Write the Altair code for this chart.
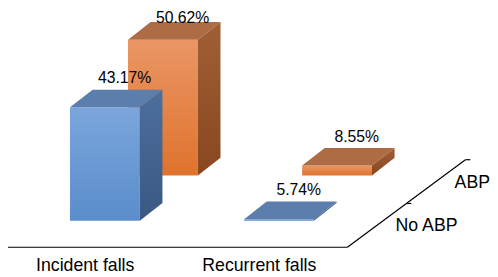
import altair as alt
import pandas as pd

# ---- data ----
categories = ["Incident falls", "Recurrent falls"]
series_names = ["No ABP", "ABP"]
no_abp_values = [43.17, 5.74]
abp_values = [50.62, 8.55]
series_values = [no_abp_values, abp_values]

# ---- layout / style constants (pixel-like x units, % y units) ----
PX_PER_PCT = 3.04          # vertical pixels per percentage point
AXIS_MIN = 5.26            # value at the floor of the value axis
X_DOMAIN = [8, 498]
PLOT_W, PLOT_H = 490, 269
BASE_FROM_TOP = 214        # px from top of plot to front-row bar base
Y_MAX = AXIS_MIN + BASE_FROM_TOP / PX_PER_PCT
Y_MIN = AXIS_MIN - (PLOT_H - BASE_FROM_TOP) / PX_PER_PCT

BAR_LEFT0 = 71
CAT_STEP = 177
ROW_DX = 59
ROW_DY = 46 / PX_PER_PCT
BAR_W = 71
DEPTH_DX = 23
DEPTH_DY = 18 / PX_PER_PCT

FLOOR_LEFT = 8
FLOOR_RIGHT = 353
FLOOR_DY = 27 / PX_PER_PCT
FLOOR_ROW_DX = 60
FLOOR_ROW_DY = 44.5 / PX_PER_PCT
TICK_LEN = 5

FONT = "Liberation Sans"
LABEL_TOP_LIMIT = Y_MAX - 8 / PX_PER_PCT   # keep value labels inside the canvas

styles = {
    "No ABP": dict(front=("#7ba6dc", "#5a8dcb"), top="#5b7ead", side=("#4d6f9c", "#3a5883")),
    "ABP": dict(front=("#ea9665", "#df732d"), top="#ae6c45", side=("#a05f35", "#88471f")),
}

xs = alt.Scale(domain=X_DOMAIN, nice=False, zero=False)
ys = alt.Scale(domain=[Y_MIN, Y_MAX], nice=False, zero=False)


def vgrad(c0, c1):
    return alt.LinearGradient(
        gradient="linear",
        stops=[alt.GradientStop(color=c0, offset=0), alt.GradientStop(color=c1, offset=1)],
        x1=0, x2=0, y1=0, y2=1,
    )


front_rows, top_rows, side_rows, label_rows = [], [], [], []
for s, name in enumerate(series_names):
    for c, cat in enumerate(categories):
        v = series_values[s][c]
        bid = f"{name}-{cat}"
        x0 = BAR_LEFT0 + c * CAT_STEP + s * ROW_DX
        x1 = x0 + BAR_W
        yb = AXIS_MIN + s * ROW_DY
        yt = v + s * ROW_DY
        front_rows.append(dict(series=name, id=bid, x=x0, x2=x1, y=yt, y2=yb))
        for px, py, py2 in [
            (x0, yt, yt),
            (x0 + DEPTH_DX, yt + DEPTH_DY, yt),
            (x1, yt + DEPTH_DY, yt),
            (x1 + DEPTH_DX, yt + DEPTH_DY, yt + DEPTH_DY),
        ]:
            top_rows.append(dict(series=name, id=bid, x=px, y=py, y2=py2))
        side_rows.append(dict(series=name, id=bid, x=x1, y=yt, y2=yb))
        side_rows.append(dict(series=name, id=bid, x=x1 + DEPTH_DX, y=yt + DEPTH_DY, y2=yb + DEPTH_DY))
        ly = min(yt + DEPTH_DY + 11.5 / PX_PER_PCT, LABEL_TOP_LIMIT)
        label_rows.append(dict(series=name, x=x0 + 55.5, y=ly, text=f"{v:.2f}%"))

front_df = pd.DataFrame(front_rows)
top_df = pd.DataFrame(top_rows)
side_df = pd.DataFrame(side_rows)
label_df = pd.DataFrame(label_rows)

layers = []
for name in reversed(series_names):  # back row first
    st = styles[name]
    layers.append(
        alt.Chart(front_df[front_df.series == name]).mark_rect(color=vgrad(*st["front"])).encode(
            x=alt.X("x:Q", scale=xs, axis=None), x2="x2:Q",
            y=alt.Y("y:Q", scale=ys, axis=None), y2="y2:Q",
        )
    )
    layers.append(
        alt.Chart(top_df[top_df.series == name]).mark_area(color=st["top"]).encode(
            x=alt.X("x:Q", scale=xs, axis=None),
            y=alt.Y("y:Q", scale=ys, axis=None), y2="y2:Q",
            detail="id:N",
        )
    )
    layers.append(
        alt.Chart(side_df[side_df.series == name]).mark_area(color=vgrad(*st["side"])).encode(
            x=alt.X("x:Q", scale=xs, axis=None),
            y=alt.Y("y:Q", scale=ys, axis=None), y2="y2:Q",
            detail="id:N",
        )
    )

labels = alt.Chart(label_df).mark_text(font=FONT, fontSize=16, color="black", baseline="middle").encode(
    x=alt.X("x:Q", scale=xs, axis=None), y=alt.Y("y:Q", scale=ys, axis=None), text="text:N"
)

# floor / axes
floor_y = AXIS_MIN - FLOOR_DY
seg_rows = [
    dict(x=FLOOR_LEFT, y=floor_y, x2=FLOOR_RIGHT, y2=floor_y),
    dict(x=FLOOR_RIGHT, y=floor_y, x2=FLOOR_RIGHT + 2 * FLOOR_ROW_DX, y2=floor_y + 2 * FLOOR_ROW_DY),
]
for i in (1, 2):
    tx = FLOOR_RIGHT + i * FLOOR_ROW_DX
    ty = floor_y + i * FLOOR_ROW_DY
    seg_rows.append(dict(x=tx, y=ty, x2=tx + TICK_LEN, y2=ty))
seg_df = pd.DataFrame(seg_rows)
floor = alt.Chart(seg_df).mark_rule(color="black", strokeWidth=1.2).encode(
    x=alt.X("x:Q", scale=xs, axis=None), x2="x2:Q",
    y=alt.Y("y:Q", scale=ys, axis=None), y2="y2:Q",
)

cat_df = pd.DataFrame(dict(
    text=categories,
    x=[BAR_LEFT0 + c * CAT_STEP + 15.5 for c in range(len(categories))],
    y=[AXIS_MIN - 46.5 / PX_PER_PCT] * len(categories),
))
cat_text = alt.Chart(cat_df).mark_text(font=FONT, fontSize=18, color="black", baseline="middle").encode(
    x=alt.X("x:Q", scale=xs, axis=None), y=alt.Y("y:Q", scale=ys, axis=None), text="text:N"
)

ser_df = pd.DataFrame(dict(
    text=series_names,
    x=[FLOOR_RIGHT + (i + 0.5) * FLOOR_ROW_DX + 19 for i in range(len(series_names))],
    y=[floor_y + (i + 0.5) * FLOOR_ROW_DY - 1 / PX_PER_PCT for i in range(len(series_names))],
))
ser_text = alt.Chart(ser_df).mark_text(font=FONT, fontSize=18, color="black", baseline="middle",
                                       align="left").encode(
    x=alt.X("x:Q", scale=xs, axis=None), y=alt.Y("y:Q", scale=ys, axis=None), text="text:N"
)

chart = alt.layer(*layers, labels, floor, cat_text, ser_text).properties(
    width=PLOT_W, height=PLOT_H, padding=0, autosize="none", background="white"
).configure_view(stroke=None)

chart.save("out.html", embed_options={"renderer": "svg", "actions": False})
